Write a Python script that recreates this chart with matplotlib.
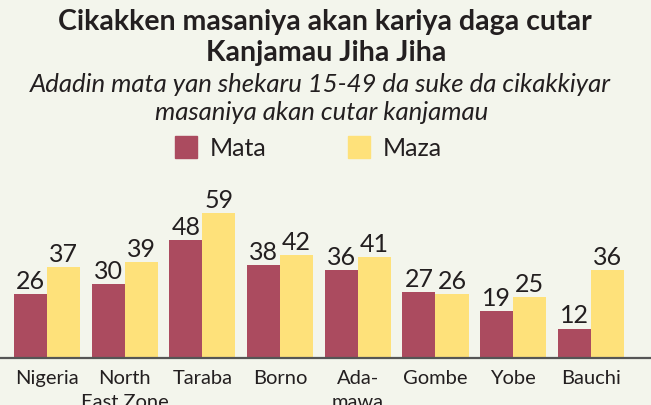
import numpy as np
import matplotlib.pyplot as plt
from matplotlib.patches import Rectangle

# Data
states = ["Nigeria", "North\nEast Zone", "Taraba", "Borno", "Ada-\nmawa", "Gombe", "Yobe", "Bauchi"]
mata = [26, 30, 48, 38, 36, 27, 19, 12]
maza = [37, 39, 59, 42, 41, 26, 25, 36]

BG = "#f3f5ec"
MATA_COLOR = "#ab4b5f"
MAZA_COLOR = "#fee17a"
TEXT = "#231f20"
FONT = "Lato"

plt.rcParams['font.family'] = [FONT, 'DejaVu Sans']

fig = plt.figure(figsize=(6.51, 4.06), dpi=100, facecolor=BG)
W, H = 651, 406

# Axes: baseline at y=359 px, spans whole width
ax = fig.add_axes([0, (H - 359) / H, 1, (359 - 180) / H])
ax.set_facecolor(BG)

x = np.arange(len(states))
bw = 0.425
b1 = ax.bar(x - bw / 2, mata, bw, color=MATA_COLOR)
b2 = ax.bar(x + bw / 2, maza, bw, color=MAZA_COLOR)

for bars, vals in ((b1, mata), (b2, maza)):
    for b, v in zip(bars, vals):
        ax.annotate(str(v), (b.get_x() + b.get_width() / 2, v),
                    xytext=(0, 1.5), textcoords="offset points",
                    ha="center", va="bottom", fontsize=18, color=TEXT)

ax.set_xlim(-47 / 77.7, (651 - 47) / 77.7)
ax.set_ylim(0, 73)
ax.set_yticks([])
ax.set_xticks(x)
ax.set_xticklabels(states, fontsize=14.5, color=TEXT, linespacing=1.5, va="top")
ax.tick_params(axis="x", length=0, pad=8)
for s in ("top", "right", "left"):
    ax.spines[s].set_visible(False)
ax.spines["bottom"].set_color("#555555")
ax.spines["bottom"].set_linewidth(1.6)

# Titles
fig.text(325 / W, 1 - 22 / H, "Cikakken masaniya akan kariya daga cutar",
         ha="center", va="center", fontsize=20.5, fontweight="bold", color=TEXT)
fig.text(326 / W, 1 - 53 / H, "Kanjamau Jiha Jiha",
         ha="center", va="center", fontsize=20.5, fontweight="bold", color=TEXT)
fig.text(320 / W, 1 - 84 / H, "Adadin mata yan shekaru 15-49 da suke da cikakkiyar",
         ha="center", va="center", fontsize=18.5, style="italic", color=TEXT)
fig.text(322 / W, 1 - 112 / H, "masaniya akan cutar kanjamau",
         ha="center", va="center", fontsize=18.5, style="italic", color=TEXT)

# Legend
for x0, col, label in ((175, MATA_COLOR, "Mata"), (348, MAZA_COLOR, "Maza")):
    fig.patches.append(Rectangle((x0 / W, 1 - 159 / H), 22 / W, 22 / H,
                                 transform=fig.transFigure, color=col))
    fig.text((x0 + 35) / W, 1 - 149 / H, label, ha="left", va="center",
             fontsize=18, color=TEXT)

fig.savefig("out.png", dpi=100, facecolor=BG)
